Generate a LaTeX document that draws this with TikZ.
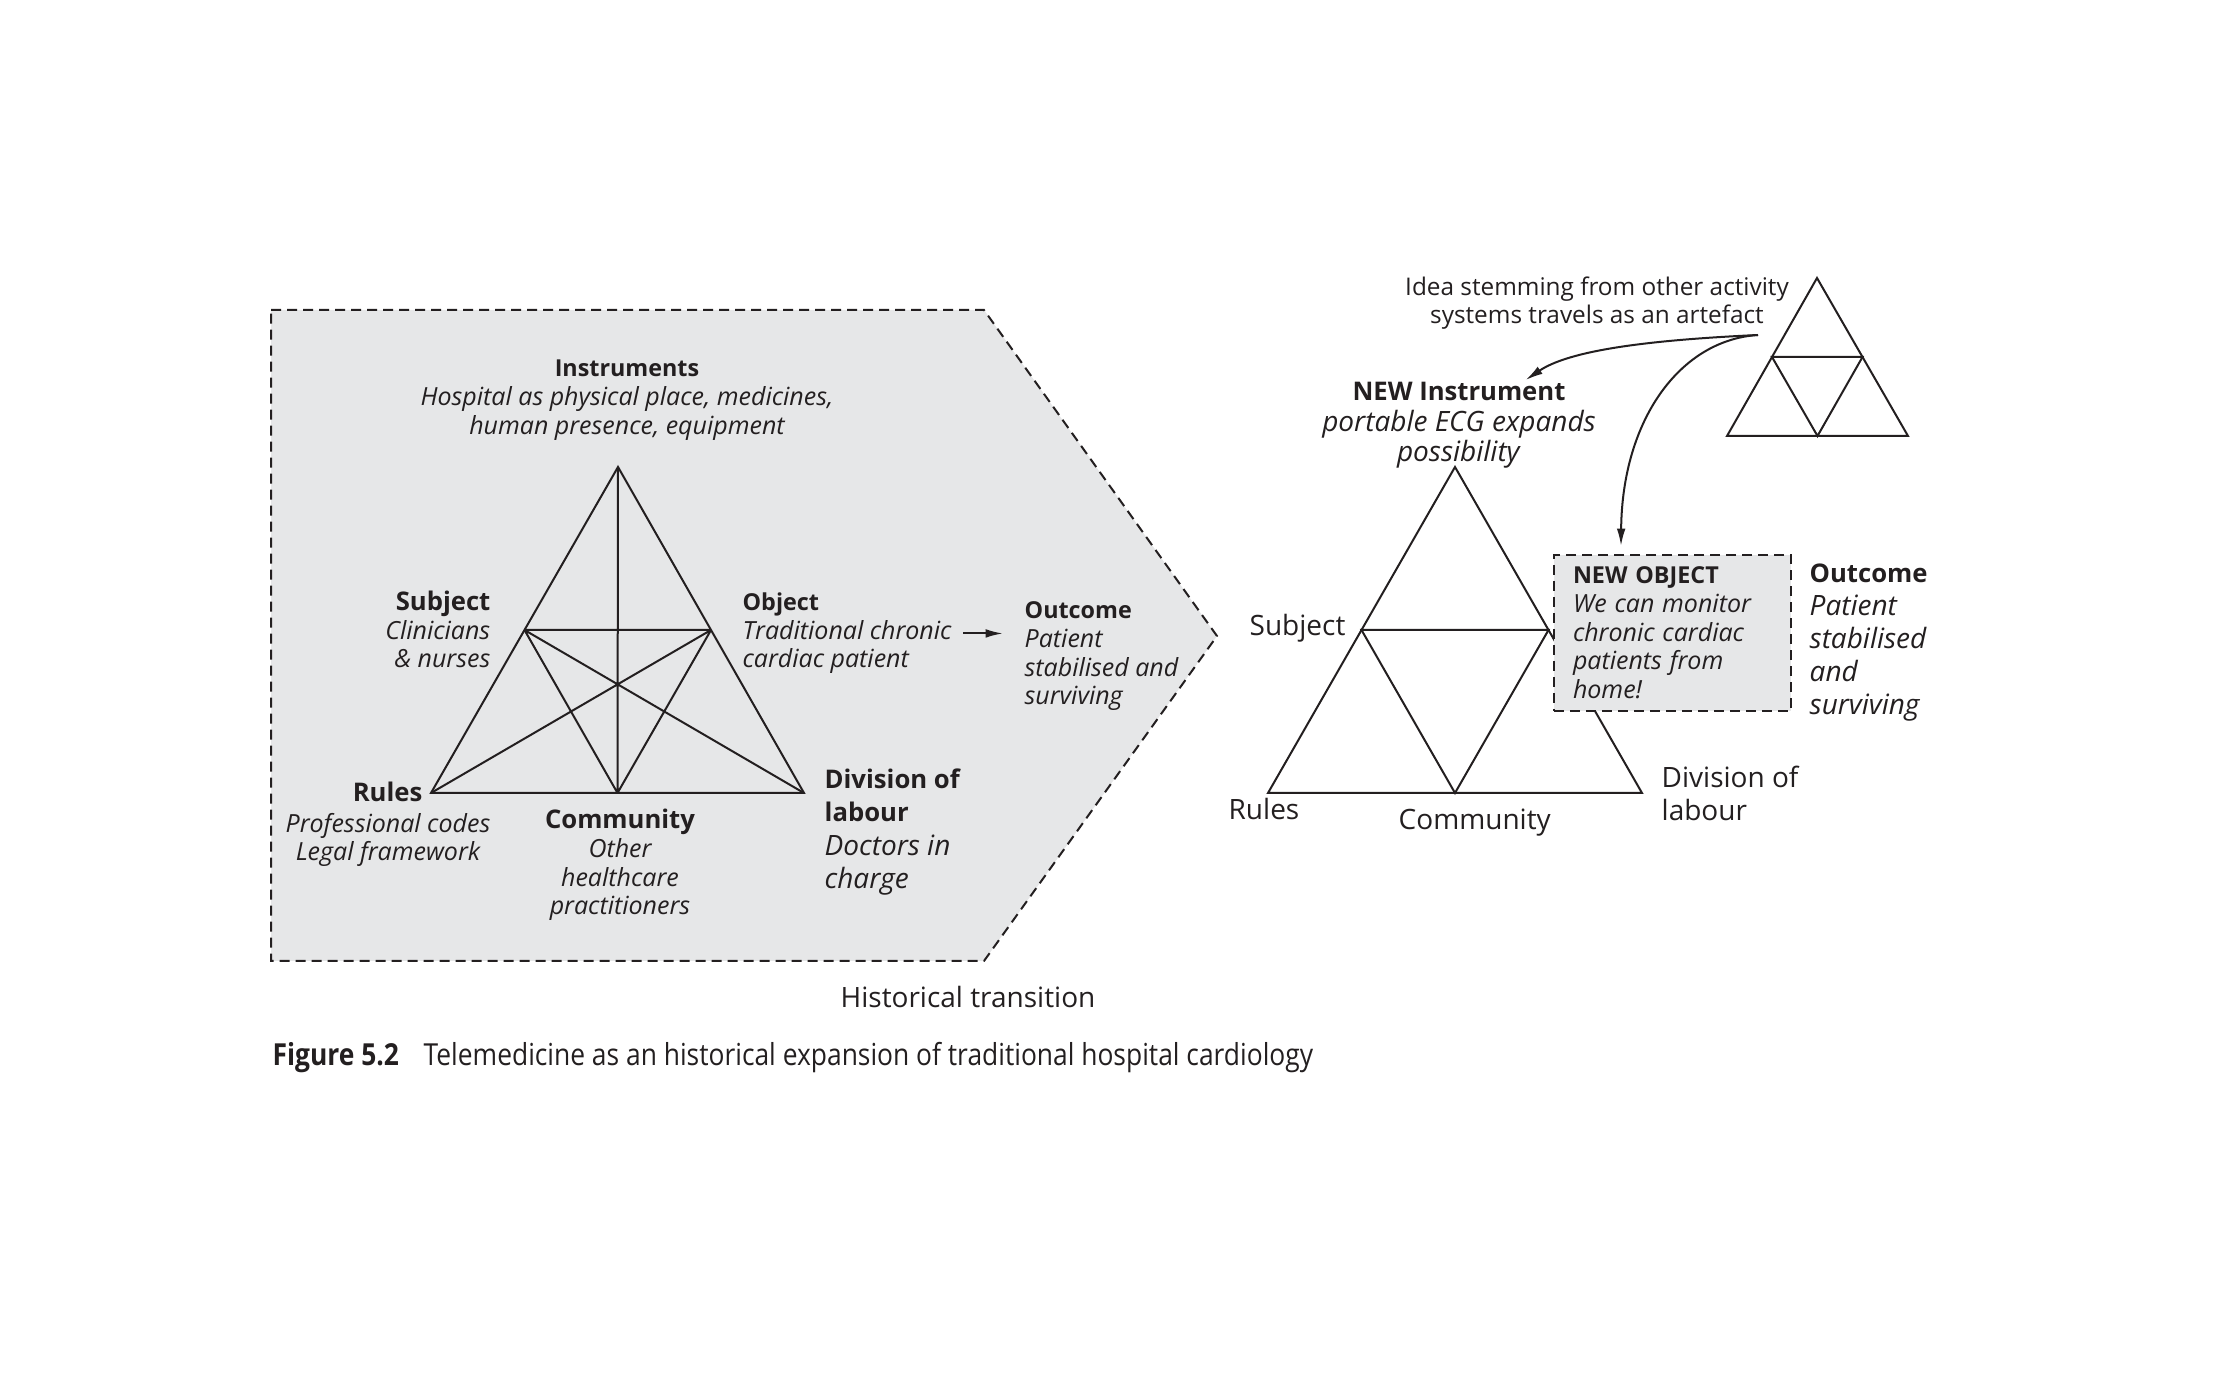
\documentclass[tikz,border=0pt]{standalone}
\usepackage{fontspec}
\setmainfont{Open Sans}
\newfontfamily\capfont[FakeStretch=0.87]{Open Sans}
\usetikzlibrary{positioning,arrows.meta}
\definecolor{ink}{HTML}{231F20}
\definecolor{panel}{HTML}{E6E7E8}
\newcommand{\desc}[1]{{\fontsize{7.5}{8.6}\selectfont\itshape #1}}
\newcommand{\bighead}[1]{{\fontsize{7.7}{10}\selectfont\bfseries #1}}
\tikzset{
  lbl/.style={inner sep=0pt, text=ink, font=\fontsize{7}{8.6}\selectfont},
  big/.style={inner sep=0pt, text=ink, font=\fontsize{8.4}{10}\selectfont},
  tri/.style={draw=ink, line width=0.6pt},
  frame/.style={draw=ink, line width=0.6pt, dash pattern=on 3pt off 1.8pt},
  arr/.style={draw=ink, line width=0.6pt, -{Latex[length=5.2pt,width=2.6pt]}},
}

\begin{document}
\begin{tikzpicture}[x=0.3pt,y=-0.3pt]
	\useasboundingbox (0,0) rectangle (2221,1375);

	% old activity system
	\draw[frame, fill=panel] (271,310) -- (984,310) -- (1217,636) -- (984,961) -- (271,961) -- cycle;
	\coordinate (Top) at (618,467);
	\coordinate (Left) at (431,793);
	\coordinate (Right) at (804,793);
	\coordinate (LeftMid) at (524.5,630);
	\coordinate (RightMid) at (711,630);
	\coordinate (BottomMid) at (617.5,793);
	\draw[tri] (Top) -- (Left) -- (Right) -- cycle;
	\draw[tri] (LeftMid) -- (RightMid) (Top) -- (BottomMid)
		(LeftMid) -- (BottomMid) (RightMid) -- (BottomMid)
		(LeftMid) -- (Right) (RightMid) -- (Left);

	% base anchor = last line
	\node[lbl, align=center, anchor=base] (Instruments) at (627,434.3)
		{\textbf{Instruments}\\ \desc{Hospital as physical place, medicines,}\\ \desc{human presence, equipment}};
	\node[lbl, align=right, anchor=base east] (Subject) at (491,668)
		{\bighead{Subject}\\ \desc{Clinicians}\\ \desc{\& nurses}};
	\node[lbl, align=left, anchor=base west] (Object) at (742,668)
		{\textbf{Object}\\ \desc{Traditional chronic}\\ \desc{cardiac patient}};
	\node[lbl, align=left, anchor=base west] (Outcome) at (1024,705)
		{\textbf{Outcome}\\ \desc{Patient}\\ \desc{stabilised and}\\ \desc{surviving}};
	\node[big, anchor=base east] (Rules) at (423,802) {\bighead{Rules}};
	\node[lbl, align=center, anchor=base] (Codes) at (388,861)
		{\desc{Professional codes}\\ \desc{Legal framework}};
	\node[lbl, align=center, anchor=base] (Community) at (620,915)
		{\bighead{Community}\\ \desc{Other}\\ \desc{healthcare}\\ \desc{practitioners}};
	\node[big, align=left, anchor=base west] (Division) at (824,888.6)
		{\bighead{Division of}\\ \bighead{labour}\\ \textit{Doctors in}\\ \textit{charge}};

	\draw[arr, shorten <=3.3pt, shorten >=6.3pt] (Object.east) -- (Object.east -| Outcome.west);

	\node[big, anchor=base west] (History) at (840,1008) {Historical transition};

	% new activity system
	\coordinate (NTop) at (1455,467);
	\coordinate (NLeft) at (1268,793);
	\coordinate (NRight) at (1642,793);
	\coordinate (NLeftMid) at (1361.5,630);
	\coordinate (NRightMid) at (1548.5,630);
	\coordinate (NBottomMid) at (1455,793);
	\draw[tri] (NTop) -- (NLeft) -- (NRight) -- cycle;
	\draw[tri] (NLeftMid) -- (NRightMid) -- (NBottomMid) -- cycle;

	% other activity system
	\coordinate (STop) at (1817,278);
	\coordinate (SLeft) at (1727,436);
	\coordinate (SRight) at (1908,436);
	\coordinate (SLeftMid) at (1772,357);
	\coordinate (SRightMid) at (1862.5,357);
	\coordinate (SBottomMid) at (1817.5,436);
	\draw[tri] (STop) -- (SLeft) -- (SRight) -- cycle;
	\draw[tri] (SLeftMid) -- (SRightMid) -- (SBottomMid) -- cycle;

	\node[lbl, font=\fontsize{7.3}{8.4}\selectfont, align=center, anchor=base] (Idea) at (1597,324)
		{Idea stemming from other activity\\ systems travels as an artefact};
	\node[big, font=\fontsize{8.4}{9.15}\selectfont, align=center, anchor=base] (NewInstrument) at (1459,462)
		{\bighead{NEW Instrument}\\ \textit{portable ECG expands}\\ \textit{possibility}};
	\node[lbl, frame, fill=panel, anchor=north west, align=left, text width=59.7pt,
		inner xsep=5.7pt, inner ysep=3.6pt, minimum height=46.8pt] (NewObject) at (1553,554)
		{\textbf{NEW OBJECT}\\ \desc{We can monitor}\\ \desc{chronic cardiac}\\ \desc{patients from}\\ \desc{home!}};
	\node[big, font=\fontsize{8.4}{9.9}\selectfont, align=left, anchor=base west] (NewOutcome) at (1809,715)
		{\bighead{Outcome}\\ \textit{Patient}\\ \textit{stabilised}\\ \textit{and}\\ \textit{surviving}};
	\node[big, anchor=base west] (NewSubject) at (1249,636) {Subject};
	\node[big, anchor=base west] (NewRules) at (1228,820) {Rules};
	\node[big, anchor=base west] (NewCommunity) at (1398,830) {Community};
	\node[big, font=\fontsize{8.4}{9.9}\selectfont, align=left, anchor=base west] (NewDivision) at (1661,821)
		{Division of\\ labour};

	\coordinate (Src) at (1758,335);
	\draw[arr] (Src) .. controls (1650,340) and (1570,350) .. ([xshift=20pt,yshift=0.6pt]NewInstrument.north);
	\draw[arr] (Src) .. controls (1680,340) and (1622,420) .. ([xshift=20.4pt,yshift=2.4pt]NewObject.north west);

	% caption
	\node[inner sep=0pt, text=ink, font=\capfont\fontsize{9.1}{11}\selectfont\bfseries, anchor=base west] (FigNum) at (272,1065) {Figure 5.2};
	\node[inner sep=0pt, text=ink, font=\capfont\fontsize{9.1}{11}\selectfont, anchor=base west] (FigText) at (423,1065)
		{Telemedicine as an historical expansion of traditional hospital cardiology};
\end{tikzpicture}
\end{document}
